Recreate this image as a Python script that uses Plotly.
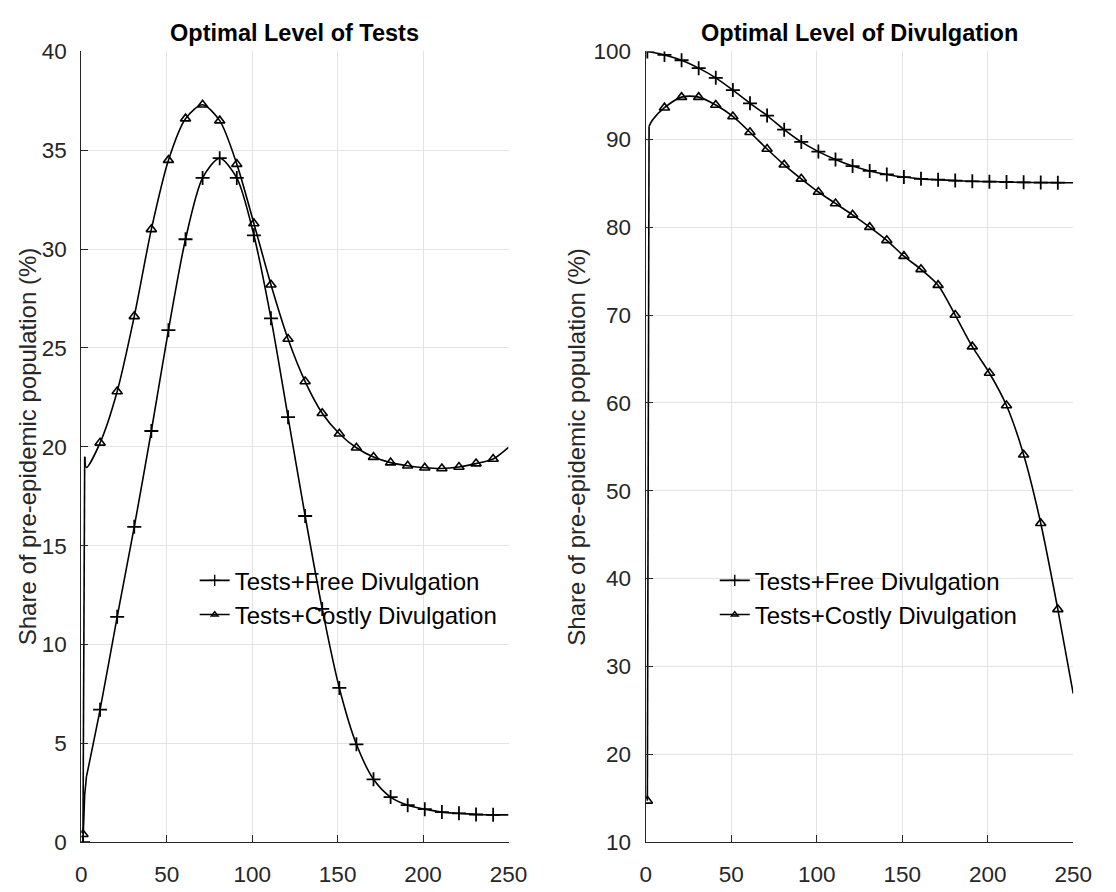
import plotly.graph_objects as go

# ---- data: day of the epidemic and optimal policy levels (% of pre-epidemic population)
tests_free_day = [1, 2, 3, 11, 21, 31, 41, 51, 61, 71, 81, 91, 101, 111, 121, 131, 141,
                  151, 161, 171, 181, 191, 201, 211, 221, 231, 241, 250]
tests_free_val = [0.0, 2.4, 3.3, 6.7, 11.4, 15.95, 20.8, 25.9, 30.5, 33.6, 34.6, 33.6, 30.7,
                  26.5, 21.5, 16.5, 11.8, 7.8, 4.95, 3.18, 2.28, 1.87, 1.67, 1.52, 1.46,
                  1.40, 1.38, 1.38]

tests_costly_day = [1, 2, 3, 11, 21, 31, 41, 51, 61, 71, 81, 91, 101, 111, 121, 131, 141,
                    151, 161, 171, 181, 191, 201, 211, 221, 231, 241, 250]
tests_costly_val = [0.4, 19.5, 18.95, 20.2, 22.8, 26.6, 31.0, 34.5, 36.6, 37.3, 36.5, 34.3,
                    31.3, 28.2, 25.45, 23.3, 21.7, 20.66, 19.95, 19.48, 19.2, 19.04, 18.94,
                    18.9, 18.98, 19.15, 19.38, 19.97]

divul_free_day = [1, 11, 21, 31, 41, 51, 61, 71, 81, 91, 101, 111, 121, 131, 141, 151, 161,
                  171, 181, 191, 201, 211, 221, 231, 241, 250]
divul_free_val = [100.0, 99.6, 99.0, 98.1, 97.0, 95.6, 94.1, 92.7, 91.1, 89.7, 88.6, 87.7,
                  86.95, 86.4, 86.0, 85.7, 85.5, 85.4, 85.3, 85.22, 85.18, 85.14, 85.1,
                  85.08, 85.06, 85.05]

divul_costly_day = [1, 2, 4, 11, 21, 31, 41, 51, 61, 71, 81, 91, 101, 111, 121, 131, 141,
                    151, 161, 171, 181, 191, 201, 211, 221, 231, 241, 250]
divul_costly_val = [14.7, 91.5, 92.2, 93.6, 94.8, 94.8, 93.9, 92.6, 90.8, 88.9, 87.1, 85.5,
                    84.0, 82.7, 81.4, 80.0, 78.5, 76.7, 75.2, 73.4, 70.0, 66.4, 63.4, 59.7,
                    54.1, 46.3, 36.5, 26.9]

series_names = ["Tests+Free Divulgation", "Tests+Costly Divulgation"]
panel_titles = ["Optimal Level of Tests", "Optimal Level of Divulgation"]
y_label = "Share of pre-epidemic population (%)"

FONT = "Liberation Sans, Arial, Helvetica, sans-serif"
TXT = "#262626"
LINE = "#000000"
SYMBOLS = ["cross-thin-open", "triangle-up-open"]
SIZES = [10, 9]
MLW = [1.8, 1.6]

fig = go.Figure()


def add_series(days, vals, k, xa, ya, jump):
    # steep start drawn straight, the rest as a smooth curve
    fig.add_trace(go.Scatter(x=days[:jump + 1], y=vals[:jump + 1], mode="lines",
                             line=dict(color=LINE, width=1.6), xaxis=xa, yaxis=ya,
                             showlegend=False, hoverinfo="skip"))
    fig.add_trace(go.Scatter(x=days[jump:], y=vals[jump:], mode="lines",
                             line=dict(color=LINE, width=1.6, shape="spline", smoothing=0.8),
                             xaxis=xa, yaxis=ya, showlegend=False, hoverinfo="skip"))
    # markers every tenth day
    mx = [d for d in days if (d - 1) % 10 == 0 and d <= 241]
    my = [v for d, v in zip(days, vals) if (d - 1) % 10 == 0 and d <= 241]
    fig.add_trace(go.Scatter(x=mx, y=my, mode="markers", xaxis=xa, yaxis=ya,
                             marker=dict(symbol=SYMBOLS[k], size=SIZES[k], color=LINE,
                                         line=dict(color=LINE, width=MLW[k])),
                             showlegend=False))


add_series(tests_free_day, tests_free_val, 0, "x", "y", 2)
add_series(tests_costly_day, tests_costly_val, 1, "x", "y", 1)
add_series(divul_free_day, divul_free_val, 0, "x2", "y2", 0)
add_series(divul_costly_day, divul_costly_val, 1, "x2", "y2", 1)

# legend entries for each panel
for leg, xa, ya in [("legend", "x", "y"), ("legend2", "x2", "y2")]:
    for k, name in enumerate(series_names):
        fig.add_trace(go.Scatter(x=[None], y=[None], mode="lines+markers", name=name,
                                 xaxis=xa, yaxis=ya, legend=leg,
                                 line=dict(color=LINE, width=1.6),
                                 marker=dict(symbol=SYMBOLS[k], size=[8, 6][k], color=LINE,
                                             line=dict(color=LINE, width=1.4))))

axis_common = dict(showline=True, linecolor=TXT, linewidth=1, mirror=False,
                   showgrid=True, gridcolor="#e3e3e3", gridwidth=1, zeroline=False,
                   ticks="inside", ticklen=7, tickcolor=TXT, tickwidth=1,
                   tickfont=dict(family=FONT, size=22.5, color=TXT))

ydom = [0.0425, 0.9545]
fig.update_layout(
    width=1116, height=892,
    margin=dict(l=0, r=0, t=0, b=0),
    paper_bgcolor="white", plot_bgcolor="white",
    font=dict(family=FONT, color=TXT),
    xaxis=dict(domain=[0.0690, 0.4606], range=[0, 250], dtick=50, anchor="y",
               ticklabelstandoff=12, **axis_common),
    yaxis=dict(domain=ydom, range=[0, 40], dtick=5, anchor="x", ticklabelstandoff=9,
               **axis_common),
    xaxis2=dict(domain=[0.5863, 0.9782], range=[0, 250], dtick=50, anchor="y2",
                ticklabelstandoff=12, **axis_common),
    yaxis2=dict(domain=ydom, range=[10, 100], dtick=10, anchor="x2", ticklabelstandoff=9,
                **axis_common),
    legend=dict(x=193 / 1116, y=1 - 562 / 892, xanchor="left", yanchor="top",
                bgcolor="rgba(0,0,0,0)", borderwidth=0,
                font=dict(family=FONT, size=24, color="#000000")),
    legend2=dict(x=725 / 1116, y=1 - 562 / 892, xanchor="left", yanchor="top",
                 bgcolor="rgba(0,0,0,0)", borderwidth=0,
                 font=dict(family=FONT, size=24, color="#000000")),
    showlegend=True,
)

annotations = []
for cx, title in zip([295.5 / 1116, 873 / 1116], panel_titles):
    annotations.append(dict(text="<b>%s</b>" % title, x=cx, y=1 - 22 / 892, xref="paper",
                            yref="paper", xanchor="center", yanchor="middle",
                            showarrow=False, font=dict(family=FONT, size=23.5, color="#000000")))
for cx in [22 / 1116, 584 / 1116]:
    annotations.append(dict(text=y_label, x=cx, y=(ydom[0] + ydom[1]) / 2,
                            xref="paper", yref="paper", xanchor="center", yanchor="middle",
                            textangle=-90, showarrow=False,
                            font=dict(family=FONT, size=24, color=TXT)))
fig.update_layout(annotations=annotations)

fig.write_html("out.html")
